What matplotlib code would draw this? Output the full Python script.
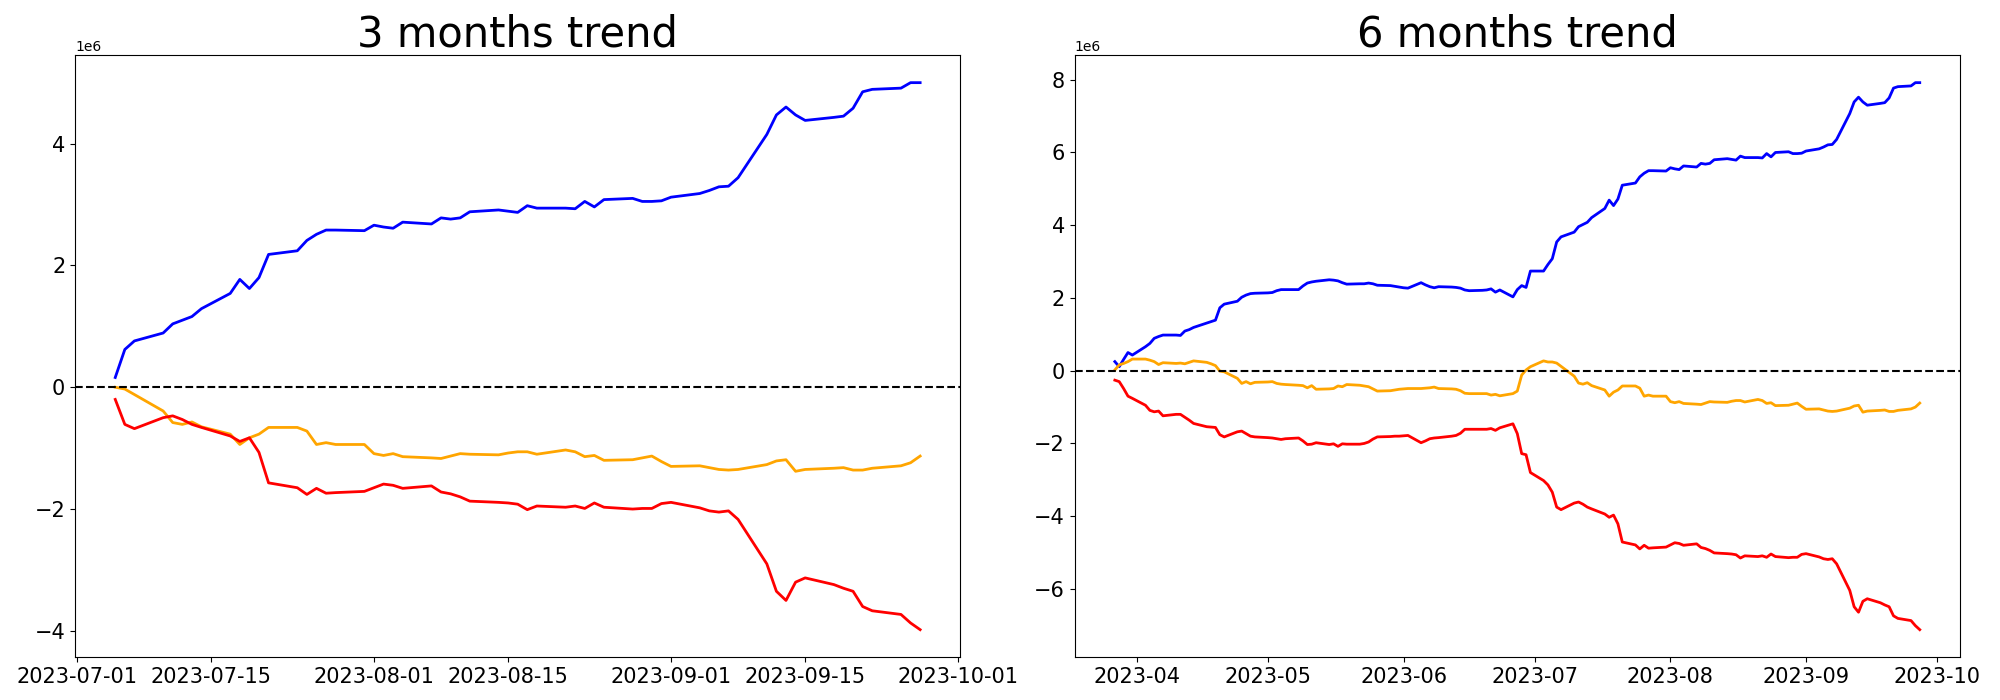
import numpy as np
import pandas as pd
import matplotlib
matplotlib.use("Agg")
import matplotlib.pyplot as plt

# weekday dates of each window
dates_3m = pd.bdate_range("2023-07-05", "2023-09-27")
dates_6m = pd.bdate_range("2023-03-27", "2023-09-27")

# cumulative values, in millions
blue_3m = [0.16, 0.62, 0.76,
           0.89, 1.04, 1.10, 1.16, 1.29,
           1.54, 1.77, 1.62, 1.80, 2.18,
           2.24, 2.41, 2.51, 2.58, 2.58,
           2.57, 2.66, 2.63, 2.61, 2.71,
           2.68, 2.78, 2.76, 2.78, 2.88,
           2.91, 2.89, 2.87, 2.98, 2.94,
           2.94, 2.93, 3.05, 2.96, 3.08,
           3.10, 3.05, 3.05, 3.06, 3.12,
           3.18, 3.23, 3.29, 3.30, 3.44,
           4.15, 4.47, 4.60, 4.47, 4.38,
           4.43, 4.45, 4.58, 4.85, 4.89,
           4.91, 5.00, 5.00]
orange_3m = [0.00, -0.03, -0.12,
             -0.39, -0.58, -0.61, -0.57, -0.65,
             -0.77, -0.94, -0.83, -0.77, -0.66,
             -0.66, -0.72, -0.94, -0.91, -0.94,
             -0.94, -1.09, -1.12, -1.09, -1.14,
             -1.16, -1.17, -1.13, -1.09, -1.10,
             -1.11, -1.08, -1.06, -1.06, -1.10,
             -1.03, -1.06, -1.14, -1.12, -1.20,
             -1.19, -1.16, -1.13, -1.22, -1.30,
             -1.29, -1.32, -1.35, -1.36, -1.35,
             -1.27, -1.21, -1.19, -1.38, -1.35,
             -1.33, -1.32, -1.36, -1.36, -1.33,
             -1.29, -1.24, -1.13]
red_3m = [-0.20, -0.61, -0.68,
          -0.50, -0.47, -0.53, -0.61, -0.66,
          -0.80, -0.89, -0.83, -1.07, -1.57,
          -1.65, -1.76, -1.66, -1.74, -1.73,
          -1.71, -1.65, -1.59, -1.61, -1.66,
          -1.62, -1.72, -1.75, -1.80, -1.87,
          -1.89, -1.90, -1.92, -2.01, -1.95,
          -1.97, -1.95, -1.99, -1.90, -1.97,
          -2.00, -1.99, -1.99, -1.91, -1.89,
          -1.98, -2.03, -2.05, -2.03, -2.17,
          -2.90, -3.35, -3.50, -3.20, -3.13,
          -3.24, -3.30, -3.35, -3.60, -3.67,
          -3.73, -3.87, -3.98]

blue_6m = [0.25, 0.11, 0.31, 0.50, 0.43,
           0.66, 0.75, 0.89, 0.94, 0.98,
           0.98, 0.97, 1.09, 1.13, 1.19,
           1.31, 1.35, 1.39, 1.73, 1.83,
           1.91, 2.02, 2.08, 2.12, 2.13,
           2.14, 2.15, 2.20, 2.23, 2.23,
           2.23, 2.33, 2.41, 2.44, 2.46,
           2.50, 2.49, 2.47, 2.42, 2.38,
           2.39, 2.39, 2.41, 2.39, 2.35,
           2.34, 2.32, 2.30, 2.28, 2.27,
           2.42, 2.36, 2.31, 2.28, 2.31,
           2.30, 2.29, 2.27, 2.22, 2.20,
           2.21, 2.22, 2.25, 2.16, 2.22,
           2.03, 2.23, 2.34, 2.29, 2.74,
           2.74, 2.92, 3.08, 3.54, 3.68,
           3.81, 3.96, 4.02, 4.08, 4.21,
           4.46, 4.69, 4.54, 4.72, 5.10,
           5.16, 5.33, 5.43, 5.50, 5.50,
           5.49, 5.58, 5.55, 5.53, 5.63,
           5.60, 5.70, 5.68, 5.70, 5.80,
           5.83, 5.81, 5.79, 5.90, 5.86,
           5.86, 5.85, 5.97, 5.88, 6.00,
           6.02, 5.97, 5.97, 5.98, 6.04,
           6.10, 6.15, 6.21, 6.22, 6.36,
           7.07, 7.39, 7.52, 7.39, 7.30,
           7.35, 7.37, 7.50, 7.77, 7.81,
           7.83, 7.92, 7.92]
orange_6m = [0.02, 0.16, 0.20, 0.25, 0.32,
             0.32, 0.29, 0.25, 0.17, 0.22,
             0.20, 0.21, 0.19, 0.23, 0.27,
             0.23, 0.19, 0.14, -0.01, -0.03,
             -0.21, -0.35, -0.30, -0.36, -0.32,
             -0.31, -0.30, -0.35, -0.37, -0.38,
             -0.40, -0.41, -0.47, -0.41, -0.51,
             -0.50, -0.49, -0.42, -0.44, -0.38,
             -0.40, -0.42, -0.44, -0.50, -0.56,
             -0.55, -0.53, -0.51, -0.50, -0.49,
             -0.49, -0.48, -0.47, -0.45, -0.49,
             -0.50, -0.51, -0.55, -0.62, -0.63,
             -0.63, -0.63, -0.67, -0.65, -0.69,
             -0.63, -0.56, -0.12, 0.02, 0.11,
             0.27, 0.24, 0.24, 0.21, 0.12,
             -0.15, -0.34, -0.37, -0.33, -0.41,
             -0.53, -0.70, -0.59, -0.53, -0.42,
             -0.42, -0.48, -0.70, -0.67, -0.70,
             -0.70, -0.85, -0.88, -0.85, -0.90,
             -0.92, -0.93, -0.89, -0.85, -0.86,
             -0.87, -0.84, -0.82, -0.82, -0.86,
             -0.79, -0.82, -0.90, -0.88, -0.96,
             -0.95, -0.92, -0.89, -0.98, -1.06,
             -1.05, -1.08, -1.11, -1.12, -1.11,
             -1.03, -0.97, -0.95, -1.14, -1.11,
             -1.09, -1.08, -1.12, -1.12, -1.09,
             -1.05, -1.00, -0.89]
red_6m = [-0.26, -0.30, -0.49, -0.70, -0.76,
          -0.95, -1.09, -1.13, -1.11, -1.24,
          -1.20, -1.20, -1.28, -1.36, -1.45,
          -1.54, -1.55, -1.56, -1.76, -1.82,
          -1.68, -1.66, -1.73, -1.80, -1.82,
          -1.84, -1.85, -1.87, -1.89, -1.87,
          -1.85, -1.93, -2.03, -2.02, -1.98,
          -2.03, -2.01, -2.08, -2.01, -2.02,
          -2.02, -2.00, -1.96, -1.88, -1.82,
          -1.81, -1.80, -1.80, -1.79, -1.78,
          -1.98, -1.93, -1.87, -1.85, -1.84,
          -1.80, -1.78, -1.72, -1.61, -1.61,
          -1.61, -1.61, -1.59, -1.64, -1.57,
          -1.46, -1.73, -2.28, -2.31, -2.80,
          -3.02, -3.14, -3.34, -3.75, -3.82,
          -3.64, -3.61, -3.67, -3.75, -3.80,
          -3.94, -4.03, -3.97, -4.21, -4.71,
          -4.79, -4.90, -4.80, -4.88, -4.87,
          -4.85, -4.79, -4.73, -4.75, -4.80,
          -4.76, -4.86, -4.89, -4.94, -5.01,
          -5.03, -5.04, -5.06, -5.15, -5.09,
          -5.11, -5.09, -5.13, -5.04, -5.11,
          -5.14, -5.13, -5.13, -5.05, -5.03,
          -5.12, -5.17, -5.19, -5.17, -5.31,
          -6.04, -6.49, -6.64, -6.34, -6.27,
          -6.38, -6.44, -6.49, -6.74, -6.81,
          -6.87, -7.01, -7.12]

panels = [("3 months trend", dates_3m, blue_3m, orange_3m, red_3m),
          ("6 months trend", dates_6m, blue_6m, orange_6m, red_6m)]

fig, axes = plt.subplots(1, 2, figsize=(20, 7), dpi=100)
fig.subplots_adjust(left=0.0375, right=0.98, bottom=0.0614, top=0.921, wspace=0.129)

for ax, (title, d, b, o, r) in zip(axes, panels):
    ax.plot(d, np.array(b) * 1e6, color="blue", lw=2)
    ax.plot(d, np.array(o) * 1e6, color="orange", lw=2)
    ax.plot(d, np.array(r) * 1e6, color="red", lw=2)
    ax.axhline(0, color="black", linestyle="--", lw=1.5)   # zero reference
    ax.set_title(title, fontsize=30)
    ax.tick_params(axis="both", labelsize=15)

fig.savefig("out.png")
